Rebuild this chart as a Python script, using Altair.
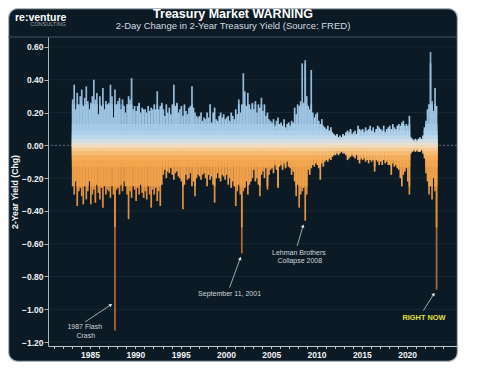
import math
import altair as alt
import pandas as pd

# ---- data: 2-day change in 2-yr yield, bimonthly extremes (hundredths of a pct point), 6 per year from 1983
pos_1980s = [28, 37, 22, 32, 25, 30,  34, 24, 29, 36, 27, 22,  26, 30, 40, 28, 32, 19,
             30, 24, 35, 22, 27, 25,  26, 37, 30, 17, 34, 25,  27, 29, 22, 28, 24, 20,
             25, 30, 28, 41, 22, 24]
pos_1990s = [21, 24, 26, 20, 23, 22,  22, 20, 24, 21, 23, 22,  25, 22, 33, 22, 24, 26,
             22, 18, 25, 20, 23, 19,  25, 37, 24, 26, 20, 22,  24, 18, 25, 21, 19, 23,
             24, 36, 23, 20, 18, 17,  18, 20, 15, 17, 16, 20,  17, 25, 14, 20, 23, 16,
             15, 18, 20, 17, 19, 16]
pos_2000s = [17, 18, 15, 20, 18, 16,  22, 19, 28, 20, 25, 44,  33, 24, 32, 25, 22, 26,
             22, 27, 20, 25, 23, 29,  21, 25, 18, 20, 16, 15,  14, 16, 12, 15, 17, 13,
             14, 12, 16, 11, 13, 14,  12, 15, 14, 23, 19, 25,  24, 27, 50, 26, 52, 30,
             24, 22, 46, 20, 17, 19]
pos_2010s = [20, 15, 13, 16, 12, 11,  10, 12, 9, 11, 8, 7,  6, 7, 5, 6, 5, 7,
             6, 8, 9, 8, 10, 7,  8, 9, 7, 12, 10, 9,  10, 8, 11, 9, 10, 12,
             9, 11, 8, 10, 12, 11,  10, 9, 12, 8, 10, 11,  12, 10, 13, 11, 10, 12,
             13, 12, 14, 15, 12, 13]
pos_2020s = [12, 18, 5, 4, 3, 4,  3, 4, 5, 4, 6, 11,  15, 22, 25, 57, 27, 21,  35, 24]

neg_1980s = [25, 30, 22, 37, 28, 26,  31, 36, 25, 33, 28, 22,  36, 30, 27, 35, 24, 29,
             33, 26, 38, 25, 30, 27,  28, 32, 25, 30, 113, 27,  26, 30, 24, 28, 22, 25,
             30, 45, 28, 32, 25, 27]
neg_1990s = [34, 26, 30, 24, 29, 32,  28, 33, 25, 30, 38, 27,  30, 26, 34, 28, 37, 24,
             18, 15, 20, 16, 17, 14,  18, 21, 17, 16, 19, 20,  22, 39, 24, 18, 21, 20,
             17, 25, 22, 31, 20, 18,  19, 21, 18, 17, 20, 25,  18, 21, 19, 24, 35, 20,
             17, 20, 22, 18, 19, 21]
neg_2000s = [18, 24, 20, 26, 22, 25,  37, 28, 24, 30, 66, 28,  26, 22, 30, 24, 22, 20,
             15, 22, 20, 24, 31, 18,  16, 20, 14, 27, 18, 15,  14, 17, 12, 15, 26, 13,
             12, 15, 11, 14, 10, 13,  14, 18, 16, 22, 31, 24,  38, 30, 28, 26, 46, 30,
             15, 18, 14, 12, 13, 11]
neg_2010s = [12, 14, 21, 11, 13, 10,  9, 10, 8, 9, 7, 6,  6, 5, 6, 5, 4, 5,
             5, 6, 9, 8, 7, 6,  7, 8, 6, 9, 11, 8,  9, 8, 10, 9, 11, 9,
             10, 9, 16, 9, 10, 12,  10, 12, 9, 11, 10, 12,  12, 18, 11, 13, 12, 14,
             15, 20, 25, 18, 16, 14]
neg_2020s = [22, 30, 5, 4, 3, 4,  3, 4, 4, 3, 5, 8,  17, 22, 30, 25, 33, 20,  28, 88]

start_year = 1983
slots_per_year = 6

y_ticks = [-1.2, -1.0, -0.8, -0.6, -0.4, -0.2, 0.0, 0.2, 0.4, 0.6]
x_ticks = list(range(1981, 2025))

# annotations (data coordinates)
ann_text = ["1987 Flash", "Crash", "September 11, 2001", "Lehman Brothers", "Collapse 2008"]
ann_tx = [1984.41, 1984.52, 2000.40, 2008.05, 2008.15]
ann_ty = [-1.111, -1.160, -0.908, -0.658, -0.707]
now_text = ["RIGHT NOW"]
now_tx = [2021.86]
now_ty = [-1.051]
arr_x0 = [1984.46, 2000.40, 2007.86, 2021.80]
arr_y0 = [-1.077, -0.868, -0.614, -1.008]
arr_x1 = [1987.29, 2001.58, 2008.51, 2022.94]
arr_y1 = [-0.973, -0.689, -0.492, -0.908]

# ---- layout / style
W, H = 409, 309
XDOM = [1980.908, 2024.954]
YDOM = [-1.224, 0.661]
FONT = "Liberation Sans"
PANEL = "#0b1a25"

bps = [0, 0.015, 0.035, 0.06, 0.09, 0.13, 0.25, 0.5, 9]
pos_cols = ["#e8e1d2", "#d6dfe2", "#c0d9ea", "#afd0ea", "#a6cbe7", "#9dc4e2", "#93bad9", "#87adcc"]
neg_cols = ["#f2dcbc", "#f5cc96", "#f6bc74", "#f5ae5c", "#f3a74f", "#efa04a", "#e3923f", "#b86a2e"]

pos_all = pos_1980s + pos_1990s + pos_2000s + pos_2010s + pos_2020s
neg_all = neg_1980s + neg_1990s + neg_2000s + neg_2010s + neg_2020s

# each colour band is drawn from zero out to its outer edge; outer bands first so inner ones sit on top
recs = []
for k in reversed(range(len(bps) - 1)):
    lo, hi = bps[k], bps[k + 1]
    for i, (p, q) in enumerate(zip(pos_all, neg_all)):
        x = start_year + (i + 0.5) / slots_per_year
        for sign, mag, pre in ((1, p / 100, "p"), (-1, q / 100, "n")):
            if mag > lo:
                recs.append({"x": x, "y0": 0.0, "y1": sign * min(mag, hi), "seg": f"{pre}{k}"})
bars_df = pd.DataFrame(recs)
seg_dom = [f"p{k}" for k in range(len(pos_cols))] + [f"n{k}" for k in range(len(neg_cols))]
seg_rng = pos_cols + neg_cols

xscale = alt.Scale(domain=XDOM, nice=False, zero=False)
yscale = alt.Scale(domain=YDOM, nice=False, zero=False)

xaxis = alt.Axis(values=x_ticks, format="d", labelExpr="datum.value % 5 == 0 ? datum.label : ''",
                 labelOverlap=False, labelFont=FONT, labelFontSize=8.5, labelFontWeight="bold",
                 labelColor="#f2f4f5", tickColor="#b8c0c6", tickSize=2.5, labelPadding=1.5,
                 domainColor="#c0c8cd", domainWidth=1, grid=False, title=None, zindex=1)
yaxis = alt.Axis(values=y_ticks, format=".2f", labelOverlap=False, labelFont=FONT, labelFontSize=8.5,
                 labelFontWeight="bold", labelColor="#f2f4f5", tickColor="#aab3b9", tickSize=4,
                 labelPadding=1, domainColor="#aab3b9", domainWidth=1, grid=False,
                 title="2-Year Yield (Chg)", titleFont=FONT, titleFontSize=8.7, titleFontWeight="bold",
                 titleColor="#f2f4f5", titlePadding=2, zindex=1)

def X(field):
    return alt.X(field, scale=xscale, axis=xaxis)

def Y(field):
    return alt.Y(field, scale=yscale, axis=yaxis)

one = pd.DataFrame({"a": [0]})

panel = alt.Chart(one).mark_rect(fill=PANEL, stroke="#aeb6bc", strokeWidth=1.2, cornerRadius=9).encode(
    x=alt.value(-39.4), x2=alt.value(409.4), y=alt.value(-28.4), y2=alt.value(324.4))

header_line = alt.Chart(one).mark_rule(color="#55636d", strokeWidth=0.8).encode(
    x=alt.value(-40), x2=alt.value(409), y=alt.value(0))

grid = alt.Chart(pd.DataFrame({"v": y_ticks})).mark_rule(color="#1b2d39", strokeWidth=0.8).encode(
    y=Y("v:Q"))

zero = alt.Chart(pd.DataFrame({"v": [0.0]})).mark_rule(color="#6b7b86", strokeWidth=0.8, strokeDash=[2, 2]).encode(
    y=Y("v:Q"))

bars = alt.Chart(bars_df).mark_bar(size=1.7).encode(
    x=X("x:Q"),
    y=Y("y0:Q"),
    y2="y1:Q",
    color=alt.Color("seg:N", scale=alt.Scale(domain=seg_dom, range=seg_rng), legend=None),
)

px_x = W / (XDOM[1] - XDOM[0])
px_y = H / (YDOM[1] - YDOM[0])
arr_df = pd.DataFrame({"x0": arr_x0, "y0": arr_y0, "x1": arr_x1, "y1": arr_y1})
arr_df["ang"] = [
    (math.degrees(math.atan2((b - a) * px_x, (d - c) * px_y)) + 360) % 360
    for a, b, c, d in zip(arr_x0, arr_x1, arr_y0, arr_y1)
]

arrows = alt.Chart(arr_df).mark_rule(color="#c3cbd0", strokeWidth=0.8).encode(
    x=X("x0:Q"), y=Y("y0:Q"), x2="x1:Q", y2="y1:Q")
heads = alt.Chart(arr_df).mark_point(shape="triangle-up", filled=True, size=14, color="#e0e6ea", opacity=1).encode(
    x=X("x1:Q"), y=Y("y1:Q"), angle=alt.Angle("ang:Q", scale=None))

ann = alt.Chart(pd.DataFrame({"t": ann_text, "x": ann_tx, "y": ann_ty})).mark_text(
    font=FONT, fontSize=7, color="#d0d6da", baseline="middle", align="center").encode(
    x=X("x:Q"), y=Y("y:Q"), text="t:N")
now = alt.Chart(pd.DataFrame({"t": now_text, "x": now_tx, "y": now_ty})).mark_text(
    font=FONT, fontSize=7.4, fontWeight="bold", color="#e0e23a", baseline="middle", align="center").encode(
    x=X("x:Q"), y=Y("y:Q"), text="t:N")

def txt(s, x, y, **kw):
    return alt.Chart(pd.DataFrame({"t": [s]})).mark_text(font=FONT, baseline="alphabetic", **kw).encode(
        x=alt.value(x), y=alt.value(y), text="t:N")

title = txt("Treasury Market WARNING", 185, -18.7, fontSize=12.5, fontWeight="bold", color="#ffffff", align="center")
subtitle = txt("2-Day Change in 2-Year Treasury Yield (Source: FRED)", 185, -7.7, fontSize=9.5,
               color="#d5dbe0", align="center")
logo = txt("re:venture", -33, -16.3, fontSize=10.5, fontWeight="bold", color="#ffffff", align="left")
logo2 = txt("CONSULTING", 18, -10.8, fontSize=5.5, color="#9aa4ab", align="right")

chart = alt.layer(panel, header_line, grid, zero, bars, arrows, heads, ann, now,
                  title, subtitle, logo, logo2).properties(
    width=W, height=H,
    padding={"left": 40, "top": 29, "right": 2, "bottom": 16},
    autosize=alt.AutoSizeParams(type="none"),
    background="white",
).configure_view(strokeWidth=0)

chart.save("out.html", embed_options={"renderer": "svg", "actions": False})
